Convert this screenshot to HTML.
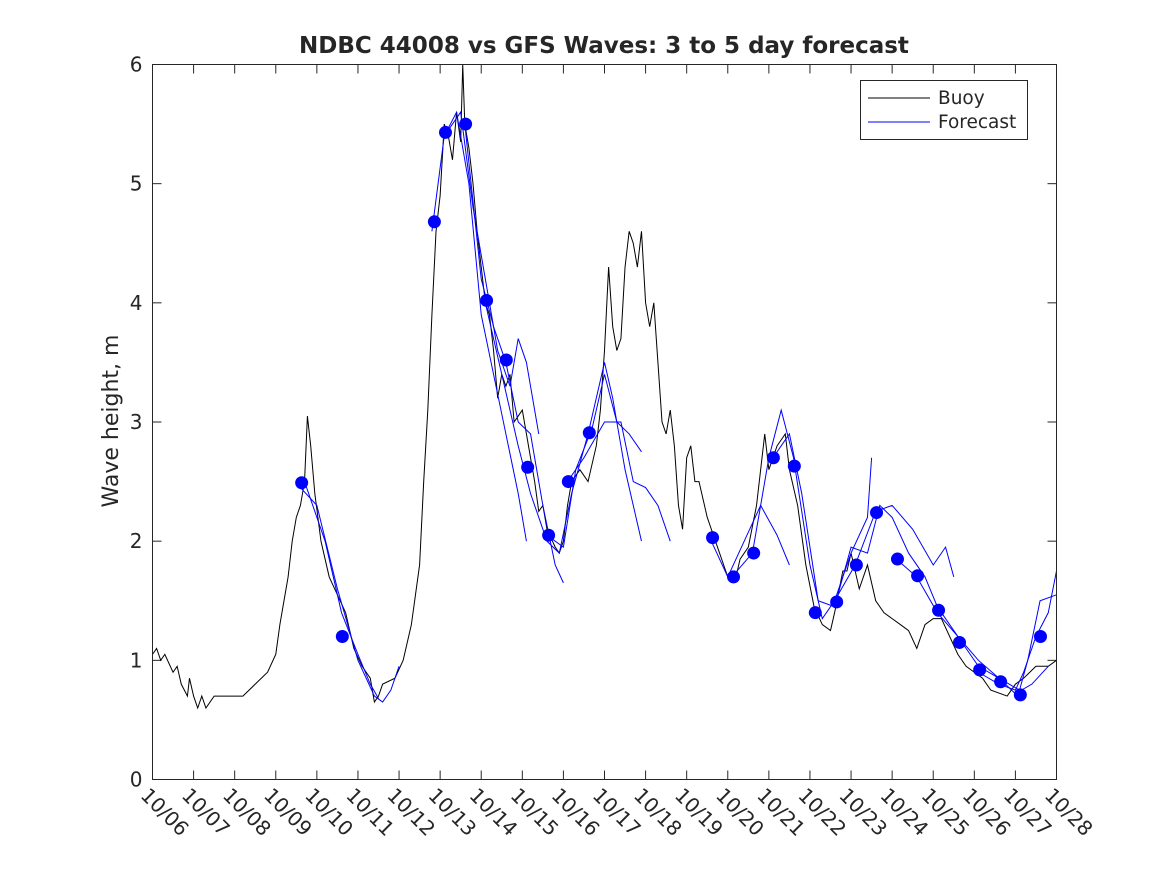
<!DOCTYPE html>
<html><head><meta charset="utf-8"><style>
body{margin:0;background:#fff;}
svg text{font-family:"DejaVu Sans","Liberation Sans",sans-serif;fill:#262626;}
</style></head><body>
<svg id="chart" width="1167" height="875" viewBox="0 0 1167 875">
<rect x="0" y="0" width="1167" height="875" fill="#fff"/>
<text x="604" y="53" text-anchor="middle" font-size="23" font-weight="bold" fill="#000">NDBC 44008 vs GFS Waves: 3 to 5 day forecast</text>
<text transform="translate(118,421) rotate(-90)" text-anchor="middle" font-size="22">Wave height, m</text>
<g id="grid"></g>
<g id="series"></g>
<rect x="152.5" y="64.5" width="904" height="715" fill="none" stroke="#262626" stroke-width="1"/>
<g>
<rect x="860.5" y="80.5" width="167" height="59" fill="#fff" stroke="#262626"/>
<line x1="868" y1="98" x2="930" y2="98" stroke="#000"/>
<text x="938" y="104" font-size="18.5">Buoy</text>
<line x1="868" y1="122" x2="930" y2="122" stroke="#00f"/>
<text x="938" y="128" font-size="18.5">Forecast</text>
</g>
</svg>
<script>
const xTickLabels=["10/06","10/07","10/08","10/09","10/10","10/11","10/12","10/13","10/14","10/15","10/16","10/17","10/18","10/19","10/20","10/21","10/22","10/23","10/24","10/25","10/26","10/27","10/28"];
const yTicks=[0,1,2,3,4,5,6];
const buoyDays=[0,0.1,0.2,0.3,0.5,0.6,0.7,0.85,0.9,1.0,1.1,1.2,1.3,1.5,2.0,2.2,2.5,2.8,3.0,3.1,3.2,3.3,3.4,3.5,3.6,3.7,3.77,3.85,3.95,4.1,4.3,4.5,4.7,4.9,5.1,5.3,5.4,5.5,5.6,5.9,6.1,6.3,6.5,6.6,6.7,6.8,6.9,7.0,7.1,7.2,7.3,7.4,7.5,7.55,7.6,7.7,7.8,7.9,8.0,8.1,8.2,8.3,8.4,8.5,8.6,8.7,8.8,8.9,9.0,9.2,9.3,9.4,9.5,9.6,9.8,9.9,10.0,10.1,10.2,10.4,10.6,10.8,10.9,11.0,11.1,11.2,11.3,11.4,11.5,11.6,11.7,11.8,11.9,12.0,12.1,12.2,12.3,12.4,12.5,12.6,12.7,12.8,12.9,13.0,13.1,13.2,13.3,13.5,13.6,13.8,14.0,14.2,14.3,14.5,14.7,14.8,14.9,15.0,15.2,15.3,15.4,15.5,15.7,15.9,16.1,16.3,16.5,16.6,16.8,16.9,17.0,17.2,17.4,17.6,17.8,18.0,18.2,18.4,18.6,18.8,19.0,19.2,19.4,19.6,19.8,20.0,20.2,20.4,20.8,21.0,21.2,21.5,21.8,22.0];
const buoyValues=[1.05,1.1,1.0,1.05,0.9,0.95,0.8,0.7,0.85,0.7,0.6,0.7,0.6,0.7,0.7,0.7,0.8,0.9,1.05,1.3,1.5,1.7,2.0,2.2,2.3,2.5,3.05,2.8,2.4,2.0,1.7,1.55,1.4,1.1,0.95,0.85,0.65,0.7,0.8,0.85,1.0,1.3,1.8,2.5,3.1,3.9,4.6,4.9,5.5,5.4,5.2,5.6,5.35,6.0,5.5,5.3,5.0,4.6,4.3,4.0,3.9,3.6,3.2,3.4,3.3,3.4,3.0,3.05,3.1,2.7,2.5,2.25,2.3,2.1,1.95,1.9,2.0,2.3,2.5,2.6,2.5,2.8,3.1,3.6,4.3,3.8,3.6,3.7,4.3,4.6,4.5,4.3,4.6,4.0,3.8,4.0,3.5,3.0,2.9,3.1,2.8,2.3,2.1,2.7,2.8,2.5,2.5,2.2,2.1,1.9,1.7,1.7,1.85,1.95,2.3,2.6,2.9,2.6,2.8,2.85,2.9,2.6,2.3,1.8,1.45,1.3,1.25,1.4,1.75,1.75,1.9,1.6,1.8,1.5,1.4,1.35,1.3,1.25,1.1,1.3,1.35,1.35,1.2,1.05,0.95,0.9,0.85,0.75,0.7,0.8,0.85,0.95,0.95,1.0];
const forecastDays=[
[3.6,4.0,4.5,5.0,5.4,5.6,5.8,6.0],
[3.7,4.2,4.6,5.0,5.3,5.5],
[6.8,7.1,7.4,7.7,8.0,8.3,8.6,8.9,9.1],
[7.1,7.5,7.8,8.1,8.4,8.7,8.9,9.1,9.4],
[7.6,8.0,8.3,8.6,8.9,9.2,9.5,9.8,10.0],
[8.1,8.5,8.9,9.2,9.6,9.9,10.2,10.6,11.0,11.2,11.5,11.9],
[9.6,10.0,10.3,10.7,11.0,11.3,11.6,11.9],
[10.1,10.5,11.0,11.4,11.7,12.0,12.3,12.6],
[13.6,14.0,14.4,14.8,15.2,15.5],
[14.1,14.6,15.0,15.3,15.6,16.0,16.3,16.6,17.0,17.4,17.5],
[15.1,15.5,15.8,16.2,16.6,17.0,17.4,17.7,18.0,18.4,18.8,19.1],
[16.6,17.1,17.6,18.0,18.5,19.0,19.3,19.5],
[18.1,18.6,19.1,19.6,20.1,20.6,21.0,21.4,21.8],
[19.1,19.6,20.1,20.6,21.1,21.3,21.6,22.0],
[20.1,20.6,21.0,21.2,21.5,21.8,22.0]];
const forecastValues=[
[2.45,2.3,1.6,1.0,0.7,0.65,0.75,0.95],
[2.5,2.0,1.4,1.05,0.8,0.68],
[4.6,5.4,5.6,5.0,3.9,3.4,2.9,2.4,2.0],
[5.4,5.6,4.8,4.2,3.6,3.3,3.7,3.5,2.9],
[5.5,4.2,3.8,3.5,3.0,2.9,2.3,1.8,1.65],
[4.0,3.4,2.8,2.4,2.0,1.9,2.4,2.9,3.5,3.2,2.6,2.0],
[2.05,1.95,2.6,2.95,3.4,3.0,2.9,2.75],
[2.5,2.7,3.0,3.0,2.5,2.45,2.3,2.0],
[2.0,1.7,2.0,2.3,2.05,1.8],
[1.7,1.9,2.7,3.1,2.7,1.8,1.35,1.5,1.9,2.2,2.7],
[2.7,2.9,2.4,1.5,1.45,1.95,1.9,2.3,2.2,1.9,1.7,1.45],
[1.5,1.8,2.25,2.3,2.1,1.8,1.95,1.7],
[1.85,1.7,1.4,1.2,0.95,0.85,0.72,0.8,0.95],
[1.45,1.2,1.0,0.85,0.75,1.0,1.5,1.55],
[0.9,0.8,0.75,0.9,1.2,1.4,1.75]];
const dotDays=[3.63,4.62,6.86,7.13,7.62,8.13,8.61,9.13,9.64,10.12,10.63,13.63,14.14,14.63,15.11,15.62,16.13,16.65,17.13,17.62,18.13,18.62,19.13,19.64,20.13,20.64,21.12,21.61];
const dotValues=[2.49,1.2,4.68,5.43,5.5,4.02,3.52,2.62,2.05,2.5,2.91,2.03,1.7,1.9,2.7,2.63,1.4,1.49,1.8,2.24,1.85,1.71,1.42,1.15,0.92,0.82,0.71,1.2];

const NS="http://www.w3.org/2000/svg";
const X0=152.5,X1=1056.5,Y0=779.5,Y1=64.5;
const xs=d=>X0+(X1-X0)*d/22;
const ys=v=>Y0-(Y0-Y1)*v/6;
const grid=document.getElementById('grid'),series=document.getElementById('series');
function mk(tag,attrs,parent){const e=document.createElementNS(NS,tag);for(const k in attrs)e.setAttribute(k,attrs[k]);parent.appendChild(e);return e;}
xTickLabels.forEach((lab,i)=>{
  const x=xs(i);
  const t1=mk('line',{x1:x,y1:Y0,x2:x,y2:Y0-9,stroke:'#262626'},grid);
  
  
  mk('line',{x1:x,y1:Y1,x2:x,y2:Y1+9,stroke:'#262626'},grid);
  const t=mk('text',{transform:`translate(${x-13},${Y0+17}) rotate(45)`,'font-size':20},grid);
  t.textContent=lab;
  
  
});
yTicks.forEach(v=>{
  const y=ys(v);
  const l=mk('line',{x1:X0,y1:y,x2:X0+9,y2:y,stroke:'#262626'},grid);
  
  
  mk('line',{x1:X1,y1:y,x2:X1-9,y2:y,stroke:'#262626'},grid);
  const t=mk('text',{x:X0-10,y:y+7,'text-anchor':'end','font-size':20},grid);
  t.textContent=v;
  
  
});
const bp=mk('polyline',{points:buoyDays.map((d,i)=>xs(d)+','+ys(buoyValues[i])).join(' '),fill:'none',stroke:'#000','stroke-width':1},series);


forecastDays.forEach((ds,k)=>{
  const p=mk('polyline',{points:ds.map((d,i)=>xs(d)+','+ys(forecastValues[k][i])).join(' '),fill:'none',stroke:'#00f','stroke-width':1},series);
  
  
});
dotDays.forEach((d,i)=>{
  const c=mk('circle',{cx:xs(d),cy:ys(dotValues[i]),r:6.5,fill:'#00f'},series);
  
  
});
</script>
</body></html>
